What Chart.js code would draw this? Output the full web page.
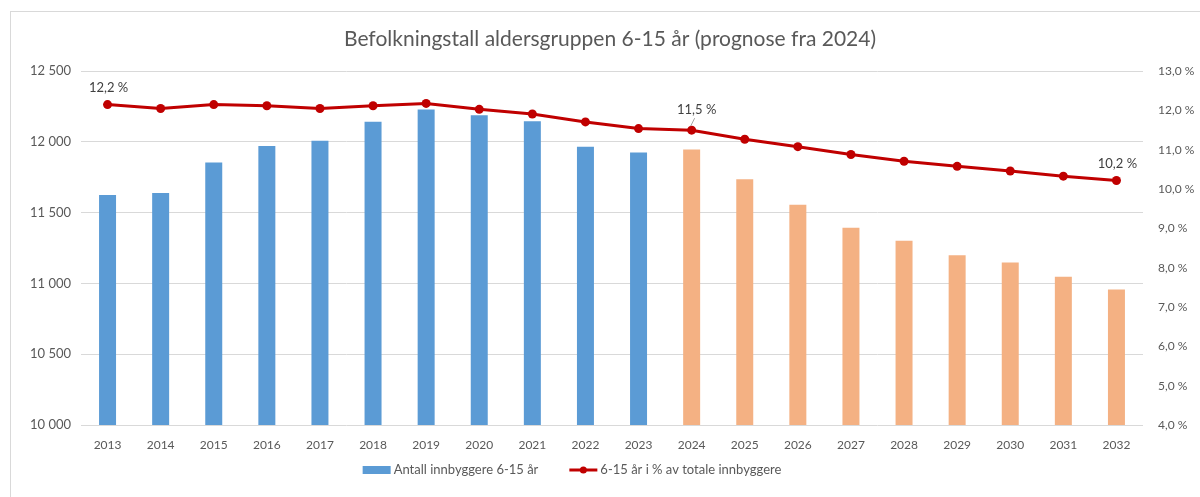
<!DOCTYPE html>
<html>
<head>
<meta charset="utf-8">
<script src="https://cdn.jsdelivr.net/npm/chart.js@4/dist/chart.umd.min.js"></script>
<style>
  html, body { margin: 0; padding: 0; background: #fff; }
  #wrap { position: relative; width: 1200px; height: 497px; overflow: hidden; }
  #frame { position: absolute; left: 10px; top: 11px; width: 1300px; height: 600px; border: 1px solid #d9d9d9; }
  canvas { position: absolute; left: 10px; top: 0; }
</style>
</head>
<body>
<div id="wrap">
  <div id="frame"></div>
  <canvas id="chart" width="1200" height="497"></canvas>
</div>
<script>
// years on the x axis
const years = ['2013', '2014', '2015', '2016', '2017', '2018', '2019', '2020', '2021', '2022',
  '2023', '2024', '2025', '2026', '2027', '2028', '2029', '2030', '2031', '2032'];

// number of inhabitants aged 6-15 (left axis)
const inhabitants = [11625, 11640, 11855, 11972, 12008, 12142, 12229, 12189, 12147, 11966,
  11926, 11947, 11737, 11556, 11393, 11302, 11200, 11149, 11047, 10958];

// share of total population, % (right axis)
const sharePct = [12.15, 12.05, 12.15, 12.12, 12.05, 12.12, 12.18, 12.03, 11.91, 11.71,
  11.54, 11.50, 11.27, 11.08, 10.88, 10.71, 10.58, 10.46, 10.33, 10.22];

// which points get a value label
const labelledYears = ['2013', '2024', '2032'];
const forecastFrom = '2024';

const BLUE = '#5B9BD5';
const ORANGE = '#F4B183';
const RED = '#C00000';
const TEXT = '#595959';
const FONT = 'Lato, "Liberation Sans", sans-serif';

// thousands with a space, decimals with a comma
const fmtInt = v => String(Math.round(v)).replace(/\B(?=(\d{3})+(?!\d))/g, ' ');
const fmtPct = (v, d) => v.toFixed(d).replace('.', ',') + ' %';

const firstForecast = years.indexOf(forecastFrom);

// value labels above selected points of the line
const pointLabels = {
  id: 'pointLabels',
  afterDatasetsDraw(chart) {
    const meta = chart.getDatasetMeta(1);
    const ctx = chart.ctx;
    ctx.save();
    ctx.font = '13px ' + FONT;
    ctx.fillStyle = '#404040';
    ctx.textAlign = 'center';
    ctx.textBaseline = 'middle';
    labelledYears.forEach(y => {
      const i = years.indexOf(y);
      const pt = meta.data[i];
      const txt = fmtPct(sharePct[i], 1);
      if (i === firstForecast) {
        // leader line from point to label
        ctx.strokeStyle = '#a6a6a6';
        ctx.lineWidth = 1;
        ctx.beginPath();
        ctx.moveTo(pt.x - 1, pt.y - 4);
        ctx.lineTo(pt.x + 3, pt.y - 12);
        ctx.stroke();
        ctx.fillText(txt, pt.x + 5, pt.y - 20);
      } else {
        ctx.fillText(txt, pt.x + 1, pt.y - 17);
      }
    });
    ctx.restore();
  }
};

// legend drawn by hand: Excel-like icons and spacing
const excelLegend = {
  id: 'excelLegend',
  afterDraw(chart) {
    const ctx = chart.ctx;
    const cy = 470, centerX = 562, iconW = 28, gap = 31;
    ctx.save();
    ctx.font = '13px ' + FONT;
    ctx.textBaseline = 'middle';
    ctx.textAlign = 'left';
    const items = chart.data.datasets.map(ds => ({ text: ds.label, w: ctx.measureText(ds.label).width, type: ds.type }));
    const total = items.reduce((s, it) => s + iconW + 3 + it.w, 0) + gap * (items.length - 1);
    let x = centerX - total / 2;
    items.forEach(it => {
      if (it.type === 'bar') {
        ctx.fillStyle = BLUE;
        ctx.fillRect(x, cy - 4, iconW, 8);
      } else {
        ctx.strokeStyle = RED;
        ctx.lineWidth = 3;
        ctx.beginPath(); ctx.moveTo(x, cy); ctx.lineTo(x + iconW, cy); ctx.stroke();
        ctx.fillStyle = RED;
        ctx.beginPath(); ctx.arc(x + iconW / 2, cy, 3.5, 0, Math.PI * 2); ctx.fill();
      }
      x += iconW + 3;
      ctx.fillStyle = TEXT;
      ctx.fillText(it.text, x, cy);
      x += it.w + gap;
    });
    ctx.restore();
  }
};

new Chart(document.getElementById('chart'), {
  data: {
    labels: years,
    datasets: [
      {
        type: 'bar',
        label: 'Antall innbyggere 6-15 år',
        data: inhabitants,
        yAxisID: 'y',
        order: 2,
        backgroundColor: c => (c.dataIndex >= firstForecast) ? ORANGE : BLUE,
        categoryPercentage: 1,
        barPercentage: 0.32,
      },
      {
        type: 'line',
        label: '6-15 år i % av totale innbyggere',
        data: sharePct,
        yAxisID: 'y1',
        order: 1,
        borderColor: RED,
        backgroundColor: RED,
        borderWidth: 3,
        pointRadius: 4.5,
        pointBackgroundColor: RED,
        pointBorderWidth: 0,
        tension: 0,
      },
    ],
  },
  options: {
    responsive: false,
    animation: false,
    layout: { padding: { top: 0, bottom: 38, left: 0, right: 0 } },
    plugins: {
      title: {
        display: true,
        text: 'Befolkningstall aldersgruppen 6-15 år (prognose fra 2024)',
        color: TEXT,
        font: { family: FONT, size: 21, weight: 'normal' },
        padding: { top: 27, bottom: 19 },
      },
      legend: { display: false },
      tooltip: { enabled: false },
    },
    scales: {
      x: {
        grid: { display: false, drawTicks: false },
        border: { display: false },
        ticks: { color: TEXT, font: { family: FONT, size: 12 }, padding: 13, maxRotation: 0 },
        afterFit: s => { s.height = 34; },
      },
      y: {
        position: 'left',
        min: 10000,
        max: 12500,
        ticks: {
          stepSize: 500,
          color: TEXT,
          font: { family: FONT, size: 13 },
          padding: 10,
          callback: v => fmtInt(v),
        },
        grid: { color: '#d9d9d9', drawTicks: false },
        border: { display: false },
        afterFit: s => { s.width = 71; },
      },
      y1: {
        position: 'right',
        min: 4,
        max: 13,
        ticks: {
          stepSize: 1,
          color: TEXT,
          font: { family: FONT, size: 12 },
          padding: 15,
          callback: v => fmtPct(v, 1),
        },
        grid: { display: false, drawTicks: false },
        border: { display: false },
        afterFit: s => { s.width = 67; },
      },
    },
  },
  plugins: [pointLabels, excelLegend],
});
</script>
</body>
</html>
